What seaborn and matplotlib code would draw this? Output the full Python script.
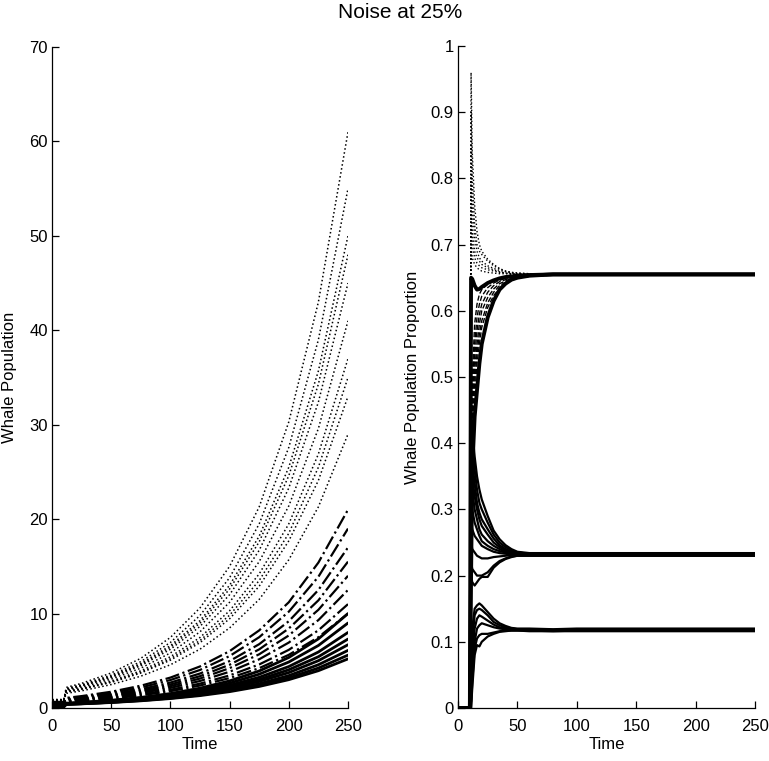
import matplotlib
matplotlib.use("Agg")
import matplotlib.pyplot as plt
import seaborn as sns
import numpy as np
from matplotlib.ticker import FormatStrFormatter

# ---------------- data ----------------
t_pop = [0, 10, 12, 25, 50, 75, 100, 125, 150, 175, 200, 225, 250]

pop_dotted = [
    [0.90, 0.90, 2.18, 2.61, 3.71, 5.26, 7.47, 10.6, 15.0, 21.3, 30.3, 43.0, 61.0],
    [0.88, 0.88, 2.06, 2.47, 3.48, 4.91, 6.94, 9.80, 13.8, 19.5, 27.6, 39.0, 55.0],
    [0.85, 0.85, 2.01, 2.40, 3.36, 4.71, 6.60, 9.25, 13.0, 18.2, 25.5, 35.7, 50.0],
    [0.84, 0.84, 1.98, 2.35, 3.29, 4.60, 6.43, 8.99, 12.6, 17.6, 24.6, 34.3, 48.0],
    [0.82, 0.82, 1.94, 2.31, 3.21, 4.47, 6.21, 8.64, 12.0, 16.7, 23.3, 32.4, 45.0],
    [0.80, 0.80, 1.86, 2.20, 3.05, 4.22, 5.83, 8.07, 11.2, 15.5, 21.4, 29.6, 41.0],
    [0.78, 0.78, 1.76, 2.08, 2.86, 3.94, 5.43, 7.47, 10.3, 14.2, 19.5, 26.9, 37.0],
    [0.76, 0.76, 1.70, 2.01, 2.76, 3.79, 5.21, 7.15, 9.83, 13.5, 18.5, 25.5, 35.0],
    [0.74, 0.74, 1.68, 1.98, 2.71, 3.70, 5.06, 6.92, 9.45, 12.9, 17.7, 24.1, 33.0],
    [0.72, 0.72, 1.55, 1.82, 2.48, 3.37, 4.58, 6.23, 8.48, 11.5, 15.7, 21.3, 29.0],
]

pop_dashdot = [
    [0.65, 0.65, 1.07, 1.26, 1.72, 2.36, 3.22, 4.40, 6.02, 8.22, 11.2, 15.4, 21.0],
    [0.62, 0.62, 0.99, 1.17, 1.59, 2.17, 2.96, 4.03, 5.50, 7.50, 10.2, 13.9, 19.0],
    [0.60, 0.60, 0.91, 1.07, 1.45, 1.98, 2.69, 3.65, 4.97, 6.76, 9.19, 12.5, 17.0],
    [0.58, 0.58, 0.85, 1.00, 1.35, 1.83, 2.49, 3.37, 4.58, 6.21, 8.42, 11.4, 15.5],
    [0.56, 0.56, 0.81, 0.94, 1.27, 1.71, 2.31, 3.12, 4.22, 5.69, 7.68, 10.4, 14.0],
    [0.54, 0.54, 0.75, 0.88, 1.18, 1.59, 2.13, 2.86, 3.84, 5.16, 6.93, 9.31, 12.5],
    [0.52, 0.52, 0.70, 0.81, 1.08, 1.44, 1.93, 2.58, 3.45, 4.61, 6.16, 8.23, 11.0],
    [0.50, 0.50, 0.65, 0.75, 1.00, 1.34, 1.78, 2.38, 3.17, 4.22, 5.63, 7.50, 10.0],
]

pop_solid = [
    [0.45, 0.45, 0.51, 0.60, 0.82, 1.12, 1.53, 2.10, 2.87, 3.92, 5.35, 7.32, 10.0],
    [0.40, 0.40, 0.48, 0.57, 0.77, 1.05, 1.42, 1.93, 2.63, 3.58, 4.87, 6.62, 9.0],
    [0.35, 0.35, 0.46, 0.54, 0.73, 0.98, 1.32, 1.78, 2.41, 3.25, 4.39, 5.93, 8.0],
    [0.30, 0.30, 0.44, 0.51, 0.69, 0.93, 1.24, 1.67, 2.24, 3.01, 4.05, 5.43, 7.3],
    [0.25, 0.25, 0.42, 0.49, 0.66, 0.88, 1.18, 1.57, 2.10, 2.81, 3.75, 5.01, 6.7],
    [0.20, 0.20, 0.40, 0.46, 0.61, 0.82, 1.09, 1.45, 1.93, 2.57, 3.43, 4.58, 6.1],
    [0.15, 0.15, 0.39, 0.45, 0.60, 0.79, 1.04, 1.38, 1.83, 2.42, 3.20, 4.23, 5.6],
    [0.10, 0.10, 0.38, 0.44, 0.58, 0.76, 1.00, 1.31, 1.73, 2.28, 3.00, 3.95, 5.2],
]

t_prop = [0, 10, 11, 12, 14, 16, 18, 20, 25, 30, 35, 40, 45, 50, 60, 80, 100, 250]

prop_top_dotted = [
    [0, 0, 0.96, 0.84, 0.76, 0.72, 0.70, 0.69, 0.678, 0.670, 0.664, 0.660, 0.658, 0.657, 0.656, 0.655, 0.655, 0.655],
    [0, 0, 0.90, 0.80, 0.73, 0.70, 0.69, 0.685, 0.675, 0.668, 0.663, 0.660, 0.658, 0.657, 0.656, 0.655, 0.655, 0.655],
    [0, 0, 0.85, 0.76, 0.71, 0.69, 0.68, 0.675, 0.668, 0.664, 0.661, 0.659, 0.657, 0.656, 0.655, 0.655, 0.655, 0.655],
    [0, 0, 0.80, 0.72, 0.69, 0.68, 0.675, 0.670, 0.665, 0.662, 0.659, 0.657, 0.656, 0.655, 0.655, 0.655, 0.655, 0.655],
    [0, 0, 0.75, 0.70, 0.68, 0.672, 0.668, 0.665, 0.662, 0.660, 0.658, 0.657, 0.656, 0.655, 0.655, 0.655, 0.655, 0.655],
    [0, 0, 0.70, 0.68, 0.67, 0.665, 0.662, 0.660, 0.658, 0.657, 0.656, 0.656, 0.655, 0.655, 0.655, 0.655, 0.655, 0.655],
]

prop_top_dashed = [
    [0, 0, 0.40, 0.50, 0.58, 0.61, 0.625, 0.632, 0.640, 0.645, 0.648, 0.650, 0.652, 0.653, 0.654, 0.655, 0.655, 0.655],
    [0, 0, 0.38, 0.48, 0.55, 0.59, 0.61, 0.622, 0.635, 0.642, 0.646, 0.649, 0.651, 0.652, 0.654, 0.655, 0.655, 0.655],
    [0, 0, 0.36, 0.46, 0.53, 0.57, 0.595, 0.61, 0.628, 0.638, 0.644, 0.647, 0.650, 0.652, 0.654, 0.655, 0.655, 0.655],
    [0, 0, 0.34, 0.44, 0.51, 0.55, 0.58, 0.60, 0.62, 0.633, 0.641, 0.645, 0.649, 0.651, 0.653, 0.655, 0.655, 0.655],
    [0, 0, 0.32, 0.42, 0.49, 0.535, 0.565, 0.585, 0.612, 0.628, 0.638, 0.643, 0.647, 0.650, 0.653, 0.654, 0.655, 0.655],
    [0, 0, 0.30, 0.40, 0.47, 0.52, 0.55, 0.575, 0.605, 0.623, 0.634, 0.641, 0.646, 0.649, 0.652, 0.654, 0.655, 0.655],
]

prop_top_thick = [
    [0, 0, 0.65, 0.648, 0.638, 0.632, 0.633, 0.636, 0.642, 0.646, 0.649, 0.651, 0.652, 0.653, 0.654, 0.655, 0.655, 0.655],
    [0, 0, 0.20, 0.36, 0.44, 0.48, 0.52, 0.55, 0.59, 0.615, 0.632, 0.641, 0.647, 0.650, 0.653, 0.655, 0.655, 0.655],
]

prop_mid = [
    [0, 0, 0.45, 0.42, 0.38, 0.35, 0.33, 0.315, 0.29, 0.268, 0.255, 0.246, 0.240, 0.236, 0.234, 0.234, 0.234, 0.234],
    [0, 0, 0.42, 0.40, 0.36, 0.33, 0.31, 0.30, 0.28, 0.262, 0.250, 0.243, 0.238, 0.235, 0.233, 0.233, 0.233, 0.233],
    [0, 0, 0.40, 0.37, 0.34, 0.31, 0.295, 0.285, 0.27, 0.256, 0.246, 0.240, 0.236, 0.234, 0.233, 0.233, 0.233, 0.233],
    [0, 0, 0.38, 0.35, 0.32, 0.30, 0.285, 0.275, 0.262, 0.250, 0.243, 0.238, 0.235, 0.233, 0.232, 0.232, 0.232, 0.232],
    [0, 0, 0.35, 0.33, 0.30, 0.285, 0.27, 0.262, 0.252, 0.245, 0.240, 0.236, 0.234, 0.233, 0.232, 0.232, 0.232, 0.232],
    [0, 0, 0.32, 0.30, 0.28, 0.27, 0.26, 0.252, 0.245, 0.240, 0.237, 0.235, 0.233, 0.232, 0.232, 0.232, 0.232, 0.232],
    [0, 0, 0.28, 0.27, 0.26, 0.255, 0.25, 0.245, 0.24, 0.236, 0.234, 0.233, 0.232, 0.231, 0.231, 0.231, 0.231, 0.231],
    [0, 0, 0.25, 0.24, 0.235, 0.23, 0.228, 0.226, 0.226, 0.228, 0.229, 0.230, 0.231, 0.231, 0.231, 0.231, 0.231, 0.231],
    [0, 0, 0.22, 0.21, 0.205, 0.20, 0.20, 0.20, 0.205, 0.215, 0.222, 0.226, 0.229, 0.230, 0.230, 0.230, 0.230, 0.230],
    [0, 0, 0.20, 0.19, 0.185, 0.19, 0.195, 0.198, 0.198, 0.212, 0.22, 0.225, 0.228, 0.230, 0.230, 0.230, 0.230, 0.230],
]

prop_low = [
    [0, 0, 0.05, 0.12, 0.15, 0.155, 0.158, 0.155, 0.145, 0.135, 0.128, 0.124, 0.121, 0.120, 0.120, 0.119, 0.120, 0.120],
    [0, 0, 0.03, 0.10, 0.14, 0.148, 0.15, 0.148, 0.140, 0.130, 0.125, 0.122, 0.120, 0.119, 0.119, 0.118, 0.119, 0.119],
    [0, 0, 0.02, 0.08, 0.12, 0.135, 0.14, 0.138, 0.132, 0.126, 0.122, 0.120, 0.119, 0.118, 0.118, 0.117, 0.118, 0.118],
    [0, 0, 0.01, 0.06, 0.10, 0.12, 0.125, 0.128, 0.125, 0.122, 0.120, 0.119, 0.118, 0.118, 0.118, 0.117, 0.118, 0.118],
    [0, 0, 0.00, 0.04, 0.09, 0.105, 0.11, 0.112, 0.112, 0.114, 0.116, 0.117, 0.117, 0.117, 0.117, 0.116, 0.117, 0.117],
    [0, 0, 0.00, 0.03, 0.08, 0.095, 0.093, 0.10, 0.108, 0.112, 0.115, 0.116, 0.117, 0.117, 0.116, 0.116, 0.116, 0.116],
]

pop_xticks = [0, 50, 100, 150, 200, 250]
pop_yticks = [0, 10, 20, 30, 40, 50, 60, 70]
prop_yticks = [0, 0.1, 0.2, 0.3, 0.4, 0.5, 0.6, 0.7, 0.8, 0.9, 1.0]

title_text = "Noise at 25%"
xlabel_text = "Time"
ylabel_left = "Whale Population"
ylabel_right = "Whale Population Proportion"

# ---------------- styling ----------------
sns.set_theme(style="ticks")
plt.rcParams["font.family"] = ["Liberation Sans", "DejaVu Sans"]
plt.rcParams["axes.linewidth"] = 0.9
plt.rcParams["text.color"] = "black"
plt.rcParams["axes.labelcolor"] = "black"
plt.rcParams["xtick.color"] = "black"
plt.rcParams["ytick.color"] = "black"

fig = plt.figure(figsize=(7.69, 7.61), dpi=100)
ax1 = fig.add_axes([52 / 769, 1 - 708 / 761, 296 / 769, 661 / 761])
ax2 = fig.add_axes([458 / 769, 1 - 708 / 761, 297 / 769, 662 / 761])


def draw(ax, t, rows, ls, lw):
    for row in rows:
        sns.lineplot(x=t, y=row, ax=ax, color="black", linestyle=ls, linewidth=lw,
                     estimator=None, sort=False, legend=False)


# left panel
draw(ax1, t_pop, pop_solid, "-", 2.0)
draw(ax1, t_pop, pop_dashdot, "-.", 1.6)
draw(ax1, t_pop, pop_dotted, ":", 1.1)

# right panel
draw(ax2, t_prop, prop_low, "-", 1.6)
draw(ax2, t_prop, prop_mid, "-", 1.6)
draw(ax2, t_prop, prop_top_dashed, "--", 1.0)
draw(ax2, t_prop, prop_top_dotted, ":", 1.0)
draw(ax2, t_prop, prop_top_thick, "-", 2.8)

for ax in (ax1, ax2):
    sns.despine(ax=ax, top=True, right=True)
    ax.set_xlim(0, 250)
    ax.set_xticks(pop_xticks)
    ax.tick_params(axis="both", direction="in", length=5, width=0.9, colors="black",
                   labelsize=12)
    ax.tick_params(axis="x", pad=8)
    ax.tick_params(axis="y", pad=3)
    ax.set_xlabel(xlabel_text, fontsize=12, labelpad=2, color="black")
    ax.set_facecolor("white")
    for sp in ax.spines.values():
        sp.set_color("black")

ax1.set_ylim(0, 70)
ax1.set_yticks(pop_yticks)
ax1.set_ylabel(ylabel_left, fontsize=12, color="black")
ax1.yaxis.set_label_coords((17 - 52) / 296, 0.5)

ax2.set_ylim(0, 1)
ax2.set_yticks(prop_yticks)
ax2.yaxis.set_major_formatter(FormatStrFormatter("%g"))
ax2.set_ylabel(ylabel_right, fontsize=12, color="black")
ax2.yaxis.set_label_coords((420 - 458) / 297, 0.5)

fig.text(0.52, 1 - 12 / 761, title_text, ha="center", va="center", fontsize=15, color="black")

fig.savefig("out.png", dpi=100, facecolor="white")
